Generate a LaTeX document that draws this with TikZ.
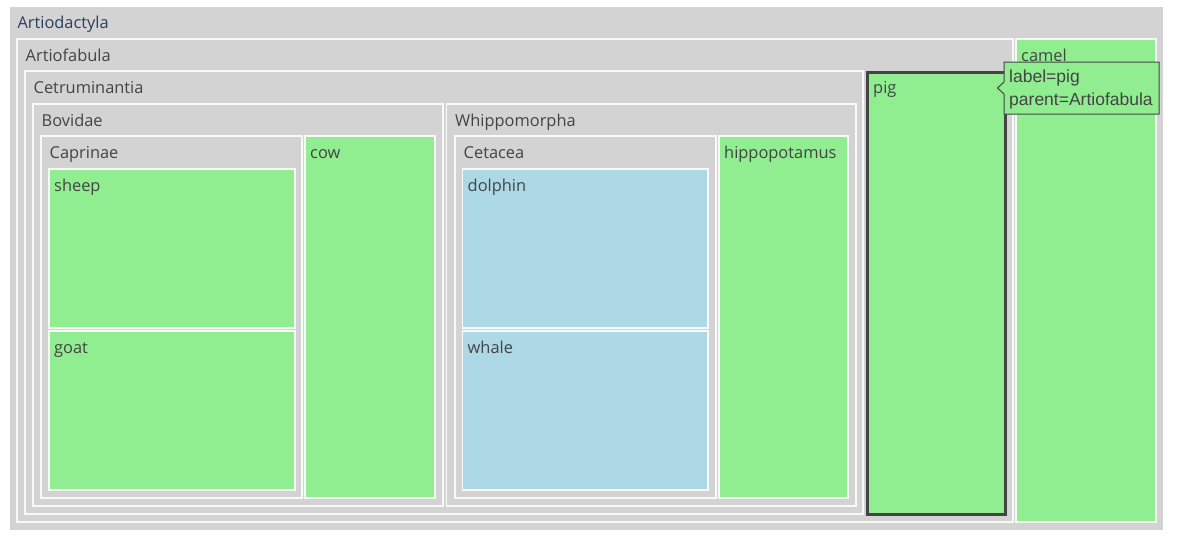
\documentclass[tikz,border=0pt]{standalone}
\usepackage{fontspec}
\setmainfont{Open Sans}
\newfontfamily\tipfont{Liberation Sans}
\definecolor{tmgray}{HTML}{D3D3D3}
\definecolor{leafgreen}{HTML}{90EE90}
\definecolor{leafblue}{HTML}{ADD8E6}
\definecolor{txtgray}{HTML}{444444}
\definecolor{rootblue}{HTML}{2A3F5F}

% one treemap cell: fill, x1, y1, x2, y2, node name, label, label indent
\newcommand\tmcell[8]{%
  \filldraw[cell, fill=#1] (#2,#3) rectangle (#4,#5);
  \node[lbl] (#6) at ({#2+#8},{#3+22.3}) {#7};}
\newcommand\branch[6]{\tmcell{tmgray}{#1}{#2}{#3}{#4}{#5}{#6}{8.5}}
\newcommand\leaf[7]{\tmcell{#1}{#2}{#3}{#4}{#5}{#6}{#7}{5}}

\begin{document}
\begin{tikzpicture}[x=1pt,y=-1pt,
  cell/.style={draw=white!95!gray, line width=1.3pt},
  lbl/.style={anchor=base west, inner sep=0pt,
    font=\fontsize{16.4}{16.4}\selectfont, text=txtgray},
  tiptext/.style={anchor=base west, inner sep=0pt,
    font=\tipfont\fontsize{17.5}{17.5}\selectfont, text=txtgray}]
\useasboundingbox (0,0) rectangle (1178,541);
\fill[white] (0,0) rectangle (1178,541);

% root
\fill[tmgray] (9.5,7) rectangle (1163,530);
\node[lbl, text=rootblue] (artiodactyla) at (17.3,28.5) {Artiodactyla};

\branch{17}{39}{1013}{522}{artiofabula}{Artiofabula}
\branch{25}{71}{863}{514}{cetruminantia}{Cetruminantia}
\branch{33}{104}{443}{506}{bovidae}{Bovidae}
\branch{41}{136}{302}{498}{caprinae}{Caprinae}
\leaf{leafgreen}{49}{169}{295}{328}{sheep}{sheep}
\leaf{leafgreen}{49}{331}{295}{490}{goat}{goat}
\leaf{leafgreen}{305}{136}{435}{498}{cow}{cow}
\branch{446.5}{104}{856}{506}{whippomorpha}{Whippomorpha}
\branch{455}{136}{716}{498}{cetacea}{Cetacea}
\leaf{leafblue}{462.5}{169}{708}{328}{dolphin}{dolphin}
\leaf{leafblue}{462.5}{331}{708}{490}{whale}{whale}
\leaf{leafgreen}{719}{136}{848}{498}{hippopotamus}{hippopotamus}
\leaf{leafgreen}{1016}{39}{1156}{522}{camel}{camel}

% hovered leaf
\filldraw[fill=leafgreen, draw=txtgray, line width=3pt] (867,72) rectangle (1005,514);
\node[lbl] (pig) at (873,93.5) {pig};

% hover label with its pointer
\filldraw[fill=leafgreen, draw=txtgray, line width=1pt, line join=miter]
  (1004,62) -- (1159,62) -- (1159,114) -- (1004,114) -- (1004,94)
  -- (997.5,88) -- (1004,82) -- cycle;
\node[tiptext] (tipa) at (1009,82.5) {label=pig};
\node[tiptext] (tipb) at (1009,105) {parent=Artiofabula};
\end{tikzpicture}
\end{document}
